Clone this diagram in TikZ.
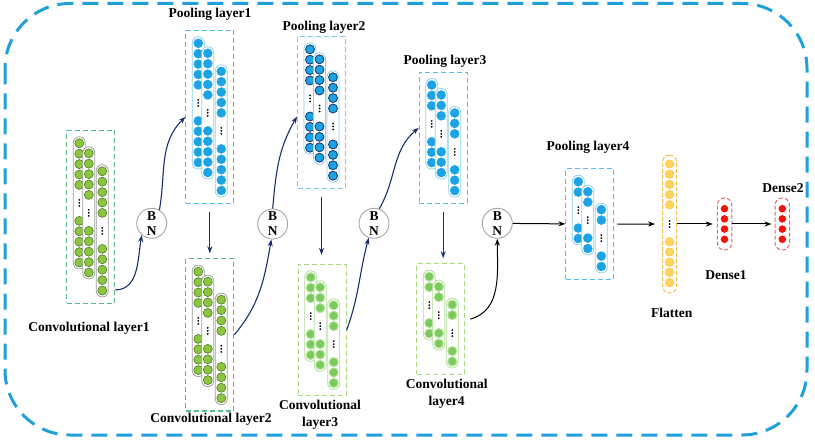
\documentclass[tikz,border=0pt]{standalone}
\usepackage{fontspec}
\setmainfont{Liberation Serif}
\usetikzlibrary{arrows.meta,fit,positioning}

\definecolor{frameblue}{HTML}{1FA0DC}
\definecolor{navy}{HTML}{1A2F6B}
\definecolor{greenfill}{HTML}{8CC63F}
\definecolor{greenline}{HTML}{4F7A28}
\definecolor{greenbox}{HTML}{55BB8C}
\definecolor{lgreenfill}{HTML}{7BCB5C}
\definecolor{lgreenline}{HTML}{B2DE98}
\definecolor{lgreenbox}{HTML}{A9D67A}
\definecolor{bluefill}{HTML}{1BA3E6}
\definecolor{blueline}{HTML}{8FD0EF}
\definecolor{bluebox}{HTML}{55BCE8}
\definecolor{darkring}{HTML}{1B3560}
\definecolor{yellowfill}{HTML}{FFD45E}
\definecolor{yellowline}{HTML}{F2C044}
\definecolor{redfill}{HTML}{F5140A}
\definecolor{redline}{HTML}{E06A6A}

\begin{document}
\begin{tikzpicture}
[x=1pt,y=-1pt,
  font=\bfseries\fontsize{13.5}{17}\selectfont,
  titledecorate/.style={align=center,inner sep=0pt},
  framedecorate/.style={draw=frameblue,line width=3pt,dash pattern=on 16pt off 9pt,rounded corners=65pt},
  capdecorate/.style={shape=rectangle,rounded corners=5.9pt,minimum width=12pt,inner sep=0pt,fill=white,line width=0.8pt},
  boxdecorate/.style={shape=rectangle,dash pattern=on 5pt off 3pt,line width=1.1pt,inner sep=6pt},
  convAcap/.style={capdecorate,draw=gray!75},
  convAball/.style={fill=greenfill,draw=greenline,line width=0.6pt},
  convAbox/.style={boxdecorate,draw=greenbox},
  convBcap/.style={capdecorate,draw=lgreenline},
  convBball/.style={fill=lgreenfill,draw=lgreenline,line width=1pt},
  convBbox/.style={boxdecorate,draw=lgreenbox},
  poolAcap/.style={capdecorate,draw=blueline},
  poolAball/.style={fill=bluefill,draw=bluefill,line width=0.4pt},
  poolAbox/.style={boxdecorate,draw=bluebox},
  poolBcap/.style={capdecorate,draw=blueline},
  poolBball/.style={fill=bluefill,draw=darkring,line width=0.8pt},
  poolBbox/.style={boxdecorate,draw=bluebox!80!white},
  flatcap/.style={shape=rectangle,rounded corners=6.9pt,minimum width=14pt,minimum height=138pt,inner sep=0pt,draw=yellowline,line width=1pt,dash pattern=on 4pt off 2pt},
  flatball/.style={fill=yellowfill,draw=yellowline,line width=0.5pt},
  densecap/.style={shape=rectangle,rounded corners=7.1pt,minimum width=14.5pt,minimum height=52pt,inner sep=0pt,draw=redline,line width=1pt,dash pattern=on 4pt off 2pt},
  denseball/.style={fill=redfill},
  bndecorate/.style={shape=circle,draw=gray!70,line width=0.9pt,minimum size=30pt,inner sep=0pt,align=center,font=\bfseries\fontsize{13.5}{15}\selectfont},
  curvedecorate/.style={navy,line width=1.1pt,-{Stealth[length=7pt,width=5pt]}},
  downdecorate/.style={navy,line width=1.1pt,-{Stealth[length=7pt,width=5pt]},shorten <=8pt,shorten >=5pt},
  flowdecorate/.style={black,line width=1pt,-{Stealth[length=7pt,width=5pt]}}]
\useasboundingbox (0,0) rectangle (815,441);
\draw[framedecorate] (5,3.5) rectangle (807,435);
%% layers: three columns each, framed by a dashed box
\foreach \lname/\x/\y/\n/\kind in {conv1/79.3/143.3/5/convA,
  conv2/198.3/271.7/4/convA, conv3/310.7/277.3/3/convB,
  conv4/429.3/276.7/2/convB, pool1/198.3/43.3/5/poolA,
  pool2/310/49.3/4/poolB, pool3/431.7/85/3/poolA,
  pool4/578.3/181.7/2/poolA} {
  \pgfmathsetmacro{\hgt}{20.8*(\n-1)+36}
  \foreach \k/\dx/\dy in {1/0/0, 2/9.5/10, 3/23/28} {
    \node[\kind cap, minimum height=\hgt+13] (\lname-\k) at (\x+\dx,\y+\dy+\hgt/2) {};
    \foreach \i in {1,...,\n} {
      \draw[\kind ball] (\x+\dx,\y+\dy+10.4*\i-10.4) circle (4.5);
      \draw[\kind ball] (\x+\dx,\y+\dy+\hgt-10.4*\i+10.4) circle (4.5);
    }
    \foreach \j in {-3,0,3}
      \fill (\x+\dx,\y+\dy+\hgt/2+\j) circle (1);
  }
  \node[\kind box, fit=(\lname-1)(\lname-3)] (\lname) {};
}
%% flatten and dense columns
\node[flatcap] (flat) at (669.6,224) {};
\foreach \i in {0,...,4} {
  \draw[flatball] (669.6,164+10.2*\i) circle (4.2);
  \draw[flatball] (669.6,241.8+10.2*\i) circle (4.2);
}
\foreach \j in {-3,0,3}
  \fill (669.6,224+\j) circle (1);
\foreach \dname/\x in {dense1/724.5, dense2/782.3} {
  \node[densecap] (\dname) at (\x,224) {};
  \foreach \i in {0,...,3}
    \fill[denseball] (\x,208.7+10.2*\i) circle (3.8);
}
%% batch normalisation
\foreach \bname/\x/\y in {bn1/151.7/223.3, bn2/272.7/224, bn3/374/223.3, bn4/497.3/223.3}
  \node[bndecorate] (\bname) at (\x,\y) {B\\N};
%% labels
\foreach \tname/\x/\y/\txt in {tconv1/89/328/Convolutional layer1,
  tconv2/211/419/Convolutional layer2, tconv3/320/414.5/Convolutional\\layer3,
  tconv4/446.7/394/Convolutional\\layer4, tpool1/210/14/Pooling layer1,
  tpool2/324/27.3/Pooling layer2, tpool3/445/61.7/Pooling layer3,
  tpool4/588/147/Pooling layer4, tflat/671.7/313.3/Flatten,
  tdense1/726/275/Dense1, tdense2/783/188.3/Dense2}
  \node[titledecorate] (\tname) at (\x,\y) {\txt};
%% connectors
\draw[curvedecorate] ([yshift=-73pt]conv1.east) to[out=0,in=-100] (bn1.230);
\draw[curvedecorate] (bn1.60) to[out=80,in=225] (pool1.west);
\draw[curvedecorate] (conv2.east) to[out=50,in=-100] (bn2.265);
\draw[curvedecorate] (bn2.north) to[out=85,in=240] ([yshift=-4pt]pool2.west);
\draw[curvedecorate] (conv3.east) to[out=70,in=-105] (bn3.250);
\draw[curvedecorate] (bn3.70) to[out=60,in=220] ([yshift=10pt]pool3.west);
\draw[flowdecorate] ([xshift=5pt]conv4.east) to[out=15,in=-90] (bn4.south);
\draw[downdecorate] (pool1.south) -- (pool1.south |- conv2.north);
\draw[downdecorate,shorten >=9pt] (pool2.south) -- (pool2.south |- conv3.north);
\draw[downdecorate] (pool3.south) -- (pool3.south |- conv4.north);
\draw[flowdecorate] (bn4) -- (pool4);
\draw[flowdecorate,shorten <=3pt,shorten >=7pt] (pool4) -- (flat);
\draw[flowdecorate,shorten >=4pt] (flat) -- (dense1);
\draw[flowdecorate,shorten >=3pt] (dense1) -- (dense2);
\end{tikzpicture}
\end{document}
